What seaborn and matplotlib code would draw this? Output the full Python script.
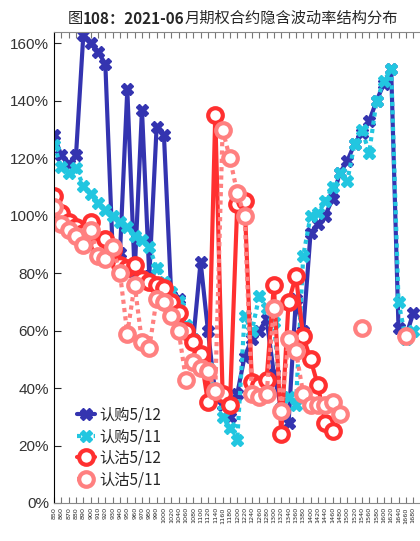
import numpy as np
import pandas as pd
import seaborn as sns
import matplotlib.pyplot as plt
from matplotlib.lines import Line2D
from matplotlib.ticker import PercentFormatter

nan = np.nan

# strike labels
strikes = [str(k) for k in range(850, 1000, 10)] + [str(k) for k in range(1000, 1700, 20)]

# implied vol (%)
call_0512 = [128, 121, 118, 121, 163, 160, 157, 153, 88, 87, 144, 80, 137, 79, 131, 128,
             72, 71, 60, 57, 84, 60, 38, 34, 30, 38, 51, 57, 60, 64, 45, 33, 28, 71, 60,
             94, 97, 100, 106, 115, 119, 125, 129, 133, 140, 146, 151, 61, 58, 66]
call_0511 = [124.5, 117, 115, 116.5, 110.5, 107.5, 104.5, 102, 100, 98, 96, 93, 91.5, 89,
             82, 77, 73.5, 70.5, 62, 57, 52, 47, 38, 30, 26, 22, 65, 60, 72, 68, 63, 33, 37,
             34, 86, 100, 101, 105, 110, 115, 112, 125, 130, 122, 140, 147, 151, 70, 57, 60]
put_0512 = [107, 101, 98, 96, 94, 98, 90, 92, 88, 83, 82, 83, 78, 77, 76, 75, 70, 66, 60,
            56, 52, 35, 135, 38, 34, 104, 105, 42, 41, 43, 76, 24, 70, 79, 58, 50, 41, 28,
            25] + [nan] * 11
put_0511 = [103, 97, 95, 93, 90, 95, 86, 85, 89, 80, 59, 76, 56, 54, 71, 70, 65, 60, 43,
            49, 47, 46, 39, 130, 120, 108, 100, 38, 37, 38, 68, 32, 57, 53, 38, 34, 34, 34,
            35, 31, nan, nan, 61, nan, nan, nan, nan, nan, 58, nan]

series = [
    ("认购5/12", call_0512, "#3434B0", "-", "X", None),
    ("认购5/11", call_0511, "#22C6E0", (0, (1, 1)), "X", None),
    ("认沽5/12", put_0512, "#FF3030", "-", "o", "white"),
    ("认沽5/11", put_0511, "#FF8080", (0, (1, 1)), "o", "white"),
]

sns.set_style("white")
plt.rcParams['font.family'] = ['Noto Sans CJK SC', 'DejaVu Sans']

fig = plt.figure(figsize=(4.2, 5.41), dpi=100)
ax = fig.add_axes([54 / 420, 38 / 541, 1 - 54 / 420, 471 / 541])

handles = []
for name, vals, col, ls, mk, fc in series:
    df = pd.DataFrame({"x": np.arange(len(vals)), "y": np.array(vals, dtype=float) / 100})
    # break line at gaps
    df["seg"] = df["y"].isna().cumsum()
    df = df.dropna()
    kw = dict(marker=mk, markersize=9 if mk == "X" else 10.5, markeredgecolor=col)
    if fc:
        kw.update(markerfacecolor=fc, markeredgewidth=3)
    else:
        kw.update(markerfacecolor=col, markeredgewidth=1)
    sns.lineplot(data=df, x="x", y="y", units="seg", estimator=None, sort=False,
                 color=col, linewidth=3, linestyle=ls, ax=ax, legend=False, **kw)
    handles.append(Line2D([], [], color=col, linewidth=3, linestyle=ls, **kw))

ax.set_xlim(0, 366 / 7.33)
ax.set_ylim(0, 1.64)
ax.set_xticks(range(len(strikes)))
ax.set_xticklabels(strikes, rotation=90, fontsize=4.6, family='DejaVu Sans')
ax.set_yticks(np.arange(0, 1.61, 0.2))
ax.yaxis.set_major_formatter(PercentFormatter(1.0, decimals=0))
ax.tick_params(axis='y', labelsize=11, labelcolor='#333333', direction='in', length=5,
               left=True)
ax.tick_params(axis='x', direction='in', length=4, top=True, bottom=True, pad=3,
               color='#777777')
for lbl in ax.get_yticklabels():
    lbl.set_family('Liberation Sans')
ax.set_xlabel("")
ax.set_ylabel("")
ax.spines['right'].set_visible(False)
ax.spines['left'].set_color('black')
ax.spines['top'].set_color('#888888')
ax.spines['bottom'].set_color('#888888')

ax.legend(handles, [s[0] for s in series], loc='lower left', bbox_to_anchor=(0.045, 0.018),
          frameon=False, fontsize=11, handlelength=1.2, handletextpad=0.3,
          labelspacing=0.3, borderaxespad=0)

t1 = fig.text(68 / 420, 1 - 18 / 541, "图", fontsize=11, va='center', ha='left')
t2 = ax.annotate("108：2021-06", xy=(1, 0), xycoords=t1, va='bottom', ha='left',
                 fontsize=11, fontweight='bold', annotation_clip=False)
ax.annotate("月期权合约隐含波动率结构分布", xy=(1, 0), xycoords=t2, va='bottom',
            ha='left', fontsize=11, annotation_clip=False)

fig.savefig("out.png", dpi=100)
